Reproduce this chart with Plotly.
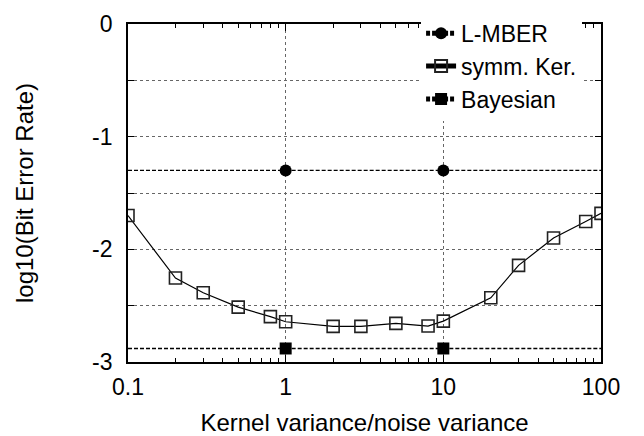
import plotly.graph_objects as go

# ---- data ----
ker_x = [0.1, 0.2, 0.3, 0.5, 0.8, 1, 2, 3, 5, 8, 10, 20, 30, 50, 80, 100]
ker_y = [-1.70, -2.255, -2.385, -2.513, -2.597, -2.643, -2.684, -2.684,
         -2.657, -2.681, -2.637, -2.43, -2.142, -1.90, -1.753, -1.681]

mber_x = [1, 10]
mber_y = [-1.3, -1.3]

bayes_x = [1, 10]
bayes_y = [-2.88, -2.88]

x_range_vals = [0.1, 100]          # full width extent of the reference lines
x_tick_vals = [0.1, 1, 10, 100]
x_tick_text = ["0.1", "1", "10", "100"]
x_minor_vals = [m * d for d in (0.1, 1, 10) for m in range(2, 10)]
y_tick_vals = [-3, -2.5, -2, -1.5, -1, -0.5, 0]
y_tick_text = ["-3", "", "-2", "", "-1", "", "0"]

FONT = "Liberation Sans, Arial, sans-serif"
DASH = "4px,2px"

fig = go.Figure()


def level_line(xs, yv, group):
    # dashed reference line outside the marked span (no legend)
    fig.add_trace(go.Scatter(
        x=[x_range_vals[0], xs[0], None, xs[-1], x_range_vals[1]],
        y=[yv, yv, None, yv, yv],
        mode="lines", line=dict(color="black", width=1.3, dash=DASH),
        showlegend=False, legendgroup=group, hoverinfo="skip",
        connectgaps=False))


level_line(mber_x, mber_y[0], "mber")
level_line(bayes_x, bayes_y[0], "bayes")

fig.add_trace(go.Scatter(
    x=mber_x, y=mber_y, name="L-MBER", legendgroup="mber",
    mode="lines+markers",
    line=dict(color="black", width=1.3, dash=DASH),
    marker=dict(symbol="circle", size=12, color="black")))

fig.add_trace(go.Scatter(
    x=ker_x, y=ker_y, name="symm. Ker.",
    mode="lines+markers",
    line=dict(color="black", width=1.2),
    marker=dict(symbol="square-open", size=12, color="#222",
                line=dict(width=1.6, color="#222"))))

fig.add_trace(go.Scatter(
    x=bayes_x, y=bayes_y, name="Bayesian", legendgroup="bayes",
    mode="lines+markers",
    line=dict(color="black", width=1.3, dash=DASH),
    marker=dict(symbol="square", size=12, color="black")))

fig.update_layout(
    width=644, height=436,
    margin=dict(l=128, r=43, t=17, b=74),
    paper_bgcolor="white", plot_bgcolor="white",
    font=dict(family=FONT, size=23, color="black"),
    legend=dict(x=0.96, y=0.875, xanchor="right", yanchor="middle",
                bgcolor="white", borderwidth=0,
                font=dict(size=23), tracegroupgap=0,
                itemsizing="constant"),
    xaxis=dict(
        type="log", range=[-1, 2], automargin=False,
        tickmode="array", tickvals=x_tick_vals, ticktext=x_tick_text,
        ticks="inside", ticklen=7, tickwidth=1, tickcolor="black",
        ticklabelstandoff=3,
        showline=True, linecolor="black", linewidth=1.8, mirror="ticks",
        showgrid=True, gridcolor="#666", griddash="dot", gridwidth=1,
        zeroline=False,
        minor=dict(tickmode="array", tickvals=x_minor_vals, ticks="inside",
                   ticklen=4, tickcolor="black", showgrid=False),
        title=dict(text="Kernel variance/noise variance",
                   font=dict(size=24), standoff=20),
        tickfont=dict(size=23),
    ),
    yaxis=dict(
        range=[-3, 0], automargin=False,
        tickmode="array", tickvals=y_tick_vals, ticktext=y_tick_text,
        ticks="inside", ticklen=6, tickwidth=1, tickcolor="black",
        ticklabelstandoff=9,
        showline=True, linecolor="black", linewidth=1.8, mirror="ticks",
        showgrid=True, gridcolor="#666", griddash="dot", gridwidth=1,
        zeroline=False,
        title=dict(text="log10(Bit Error Rate)", font=dict(size=24),
                   standoff=52),
        tickfont=dict(size=23),
    ),
)

fig.write_html("out.html")
